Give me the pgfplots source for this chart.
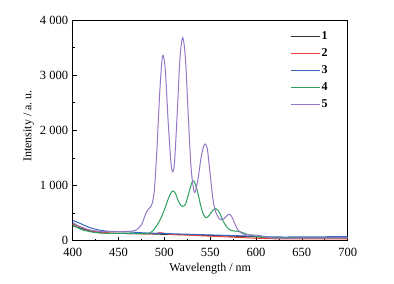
\documentclass[border=0pt]{standalone}
\usepackage{fontspec}
\setmainfont{Liberation Serif}
\usepackage{pgfplots}
\pgfplotsset{compat=1.18}
\definecolor{c1}{HTML}{333333}
\definecolor{c2}{HTML}{F03C3C}
\definecolor{c3}{HTML}{3468C0}
\definecolor{c4}{HTML}{2CA05E}
\definecolor{c5}{HTML}{9478C6}
\begin{document}
\begin{tikzpicture}[font=\fontsize{12}{14}\selectfont]
\useasboundingbox (-72.7pt,-43.3pt) rectangle (321.3pt,240.7pt);
\begin{axis}[
  scale only axis, width=275pt, height=220.7pt,
  at={(0pt,0pt)}, anchor=south west,
  xmin=400, xmax=700, ymin=0, ymax=4000,
  xtick={400,450,...,700}, minor x tick num=1,
  ytick={0,1000,...,4000}, minor y tick num=1,
  tick align=inside, major tick length=4pt, minor tick length=2pt,
  xtick pos=lower, ytick pos=left,
  tick style={black, line width=0.6pt},
  axis line style={line width=0.8pt},
  /pgf/number format/assume math mode=true,
  /pgf/number format/1000 sep={\ },
  scaled y ticks=false,
  tick label style={font=\fontsize{12.5}{14}\selectfont, inner sep=1pt},
  xticklabel style={yshift=-6pt},
  yticklabel style={xshift=-3.4pt},
  xlabel={Wavelength / nm},
  ylabel={Intensity / a.\ u.},
  xlabel style={at={(axis description cs:0.5,-0.1373)}, anchor=base, inner sep=0pt},
  ylabel style={at={(axis description cs:-0.1505,0.52)}, anchor=base, inner sep=0pt},
  legend style={draw=none, fill=none, at={(axis description cs:0.78,0.968)}, anchor=north west,
    font=\fontsize{12}{14}\selectfont\bfseries,
    nodes={inner sep=1pt, text height=9pt, text depth=3pt}, row sep=3pt},
  legend cell align=left,
  legend image code/.code={\draw[#1, line width=1.2pt] (0pt,0pt) -- (29pt,0pt);},
  every axis plot/.append style={line width=1pt, smooth, no markers},
]
\addplot[c1] coordinates {
(400,270)(410,220)(420,170)(430,145)(440,135)(460,130)(480,125)(500,115)(520,110)
(540,100)(560,90)(580,80)(600,70)(620,55)(650,50)(700,50)};
\addlegendentry{1}
\addplot[c2] coordinates {
(400,300)(410,240)(420,180)(440,140)(460,130)(480,125)(490,130)(495,145)(500,135)
(505,115)(520,105)(540,90)(560,75)(580,60)(600,45)(620,35)(650,32)(700,32)};
\addlegendentry{2}
\addplot[c3] coordinates {
(400,370)(410,300)(420,230)(430,190)(440,170)(460,160)(480,140)(500,130)(520,120)
(540,110)(560,100)(580,90)(600,80)(620,68)(650,68)(700,75)};
\addlegendentry{3}
\addplot[c4] coordinates {
(400,290)(405,240)(410,200)(420,160)(430,140)(440,135)(450,133)(460,133)(470,130)
(480,128)(484,140)(488,190)(492,280)(496,400)(500,560)(503,700)(506,830)(509,900)
(512,860)(515,730)(518,640)(520,620)(523,660)(526,820)(529,1000)(531,1080)(533,1060)
(536,900)(539,680)(542,500)(545,420)(548,440)(551,510)(554,570)(556,580)(559,540)
(562,440)(565,330)(568,250)(572,190)(576,175)(580,170)(584,155)(588,130)(592,105)
(596,90)(600,80)(605,70)(610,60)(620,50)(640,50)(700,50)};
\addlegendentry{4}
\addplot[c5] coordinates {
(400,330)(405,280)(410,240)(420,190)(430,170)(440,165)(450,165)(460,168)(465,175)
(470,200)(475,290)(480,500)(483,580)(486,640)(489,900)(492,1700)(495,2700)(498,3350)
(501,3100)(504,2200)(507,1450)(509,1250)(511,1400)(514,2300)(517,3300)(520,3680)
(523,3300)(526,2300)(529,1350)(532,920)(534,900)(537,1150)(540,1500)(543,1720)
(545,1750)(547,1650)(550,1200)(553,750)(556,520)(559,420)(562,380)(565,400)(568,450)
(571,480)(574,420)(577,300)(580,200)(585,130)(590,110)(595,105)(600,100)(605,90)
(610,70)(620,50)(630,45)(650,50)(700,55)};
\addlegendentry{5}
\end{axis}
\end{tikzpicture}
\end{document}
